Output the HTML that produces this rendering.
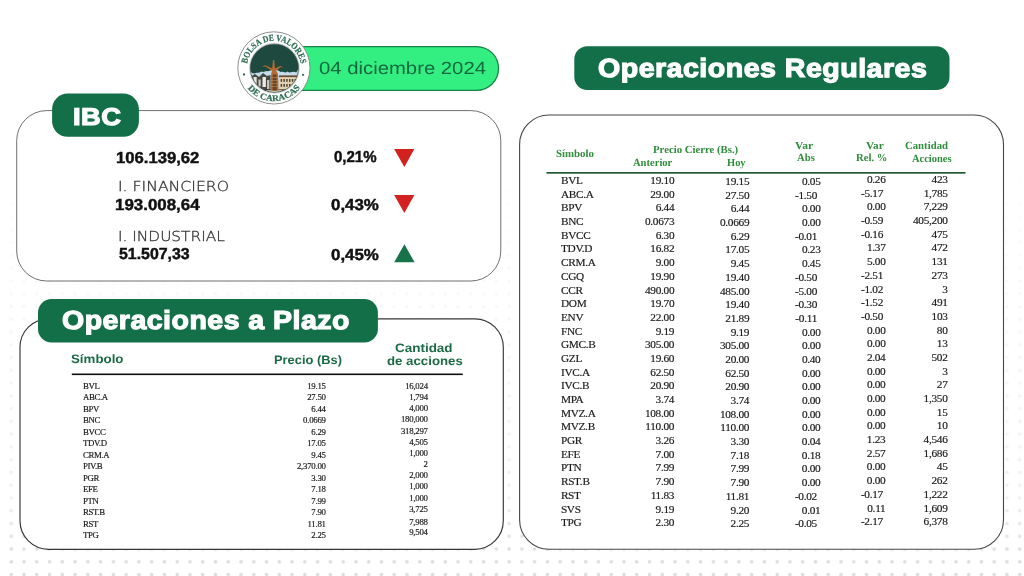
<!DOCTYPE html>
<html lang="es">
<head>
<meta charset="utf-8">
<title>Bolsa de Valores de Caracas - 04 diciembre 2024</title>
<style>
html,body{margin:0;padding:0;}
body{width:1024px;height:576px;position:relative;overflow:hidden;background:#fff;font-family:"Liberation Sans",sans-serif;}
.abs{position:absolute;}
/* dotted backdrop */
.dots{position:absolute;left:0;top:0;width:1024px;height:576px;
  background-image:radial-gradient(circle at 50% 50%, #dedede 0, #dedede 1.4px, rgba(222,222,222,0) 2.2px);
  background-size:12.77px 12.77px;background-position:4.865px 6.505px;
  -webkit-mask-image:linear-gradient(to bottom, rgba(0,0,0,0) 0, rgba(0,0,0,0) 130px, rgba(0,0,0,.2) 300px, rgba(0,0,0,.45) 500px, rgba(0,0,0,1) 552px);
  mask-image:linear-gradient(to bottom, rgba(0,0,0,0) 0, rgba(0,0,0,0) 130px, rgba(0,0,0,.2) 300px, rgba(0,0,0,.45) 500px, rgba(0,0,0,1) 552px);}
/* generic text line */
.t{position:absolute;display:block;white-space:nowrap;line-height:1;transform-origin:0 0;margin:0;padding:0;font-weight:normal;opacity:.999;}
.mb{font-weight:bold;color:#111;-webkit-text-stroke:0.45px #111;}
.ttl{font-weight:bold;color:#fff;-webkit-text-stroke:1.2px #fff;letter-spacing:0.45px;}
.dt{color:#14683f;}
.lt{font-family:"DejaVu Sans","Liberation Sans",sans-serif;font-weight:200;color:#333;-webkit-text-stroke:0.3px #333;}
.gh{font-weight:bold;color:#1c6b46;}
.rh{font-family:"Liberation Serif",serif;font-weight:bold;color:#2f8d3c;}
/* tables */
.col{position:absolute;white-space:nowrap;transform-origin:0 0;transform:rotate(0.02deg);opacity:.999;font-family:"Liberation Serif",serif;color:#1a1a1a;-webkit-text-stroke:0.18px #1a1a1a;}
.col span{display:block;}
#logo{left:234px;top:28px;width:80px;height:80px;}
</style>
</head>
<body>
<div class="dots"></div>

<!-- panels, pills, rules, arrows -->
<svg id="shapes" class="abs" style="left:0;top:0" width="1024" height="576" viewBox="0 0 1024 576">
  <!-- date pill -->
  <path d="M272,46.5 H476.6 A21.95,21.95 0 0 1 476.6,90.4 H272 Z" fill="#33ee81" stroke="#178248" stroke-width="1.25"/>
  <!-- panels -->
  <rect x="16.7" y="110.6" width="484.1" height="170.4" rx="30" fill="#fff" stroke="#707070" stroke-width="1"/>
  <rect x="20" y="318.8" width="483.3" height="230.5" rx="28.5" fill="#fff" stroke="#363636" stroke-width="1.15"/>
  <rect x="519.6" y="115" width="483.9" height="434.3" rx="29.5" fill="#fff" stroke="#454545" stroke-width="1.1"/>
  <!-- pills -->
  <rect x="52.1" y="93.6" width="86.8" height="43.2" rx="15.5" fill="#136f47"/>
  <rect x="38" y="299.1" width="339.9" height="43.4" rx="13.5" fill="#136f47"/>
  <rect x="574.3" y="46.3" width="375.2" height="43.8" rx="13" fill="#136f47"/>
  <!-- rules -->
  <rect x="71.8" y="373.5" width="391" height="1.6" fill="#111"/>
  <rect x="546.5" y="172.0" width="419" height="1.7" fill="#1f5a33"/>
  <!-- arrows -->
  <path d="M394.2,148.9 h20.2 l-10.1,18 Z" fill="#d2211f"/>
  <path d="M394.2,195.1 h20.2 l-10.1,18 Z" fill="#d2211f"/>
  <path d="M394.2,262.3 h20.4 l-10.2,-18 Z" fill="#17734a"/>
</svg>
<!-- logo -->
<svg id="logo" class="abs" viewBox="0 0 80 80">
  <defs>
    <path id="arcTop" d="M 12.8,39.9 A 27.1,27.1 0 0 1 67,39.9"/>
    <path id="arcBot" d="M 6.7,39.9 A 33.2,33.2 0 0 0 73.1,39.9"/>
    <clipPath id="inner"><circle cx="40.4" cy="40.2" r="24.1"/></clipPath>
  </defs>
  <circle cx="39.9" cy="39.9" r="36.1" fill="#fff" stroke="#7d8581" stroke-width="0.9"/>
  <circle cx="40.4" cy="40.2" r="25" fill="#dfe8e6" stroke="#b4c2be" stroke-width="0.5"/>
  <g clip-path="url(#inner)">
    <rect x="14" y="14" width="54" height="54" fill="#c4dcea"/>
    <!-- buildings left -->
    <g transform="translate(0,2)">
    <path d="M15,48 L21,44 L25,47 L29,43 L33,46 L36.6,45 L36.6,64 L15,64 Z" fill="#454843"/>
    <rect x="19.5" y="47" width="3.2" height="8" fill="#e6e4dc"/>
    <rect x="24.5" y="49.5" width="2.2" height="7" fill="#cfcbbe"/>
    <rect x="28.5" y="47" width="3.4" height="10" fill="#eceae2"/>
    <rect x="33" y="50" width="2.4" height="9" fill="#c9c3b2"/>
    <rect x="21" y="57" width="3" height="5" fill="#1f201e"/>
    <!-- building right -->
    <rect x="45" y="46.4" width="23" height="15" fill="#e0d2b0"/>
    <rect x="45" y="45.4" width="23" height="1.7" fill="#6a4634"/>
    <g fill="#4f4237">
      <rect x="46.6" y="49" width="1.5" height="2.8"/><rect x="49.4" y="49" width="1.5" height="2.8"/><rect x="52.2" y="49" width="1.5" height="2.8"/><rect x="55" y="49" width="1.5" height="2.8"/><rect x="57.8" y="49" width="1.5" height="2.8"/><rect x="60.6" y="49" width="1.5" height="2.8"/>
      <rect x="46.6" y="54" width="1.5" height="2.8"/><rect x="49.4" y="54" width="1.5" height="2.8"/><rect x="52.2" y="54" width="1.5" height="2.8"/><rect x="55" y="54" width="1.5" height="2.8"/><rect x="57.8" y="54" width="1.5" height="2.8"/><rect x="60.6" y="54" width="1.5" height="2.8"/>
    </g>
    <rect x="14" y="59.4" width="54" height="9" fill="#33342e"/>
    <rect x="32" y="60.2" width="16" height="2.6" fill="#e3dccb"/>
    </g>
    <!-- canopy -->
    <path d="M16.6,43 C14,31 21,19.5 33,17 C45,14.4 58.8,18 63.4,27.5 C66.6,34 65,41.5 62.2,44.6 C59,42.4 56.6,46 53.4,43.6 C50.8,45.8 48.6,42.8 46.4,44 C44.6,41.8 43.2,42.6 41.8,41.4 L39,41.4 C37.4,43 35.8,41.6 34,43.4 C31.6,42.2 30,45.2 27.4,43.6 C25,45.8 22.4,43.6 20.2,45.6 C18.4,45.4 17,44.6 16.6,43 Z" fill="#1d493f"/>
    <!-- trunk + branches -->
    <path d="M36.7,62.4 L37.1,46 L38,42.8 L31.6,38.4 L27.6,38.4 L31.4,37.2 L38.2,40.4 L39,32 L40.2,32 L41,40.4 L46.2,38 L49.6,39.2 L46.4,39.2 L42.2,42.8 L44,46 L44.6,62.4 Z" fill="#b46a30"/>
    <path d="M38.6,62.4 L38.8,46.6 L42.4,46.6 L42.8,62.4 Z" fill="#6a4426"/>
    <g stroke="#c9975e" stroke-width="0.5"><path d="M37.2,49.5H44.4M37.1,52.5H44.5M37,55.5H44.6M36.9,58.5H44.7"/></g>
  </g>
  <circle cx="40.4" cy="40.2" r="24.1" fill="none" stroke="#3c4a45" stroke-width="0.7"/>
  <g font-family="'Liberation Serif',serif" font-weight="bold" fill="#2a6c50" stroke="#2a6c50" stroke-width="0.22" font-size="9.1" opacity="0.99">
    <text textLength="76.5" lengthAdjust="spacingAndGlyphs"><textPath href="#arcTop" startOffset="4.2">BOLSA DE VALORES</textPath></text>
    <text textLength="61" lengthAdjust="spacingAndGlyphs" font-size="8.9"><textPath href="#arcBot" startOffset="21.7">DE CARACAS</textPath></text>
  </g>
  <circle cx="10" cy="46.5" r="1.15" fill="#2a6c50"/>
  <circle cx="69.1" cy="46.8" r="1.15" fill="#2a6c50"/>
</svg>

<!-- IBC panel -->

<!-- Plazo panel -->

<!-- Regulares -->

<header>
<time class="t dt" id="t0" style="left:318.6px;top:59.72px;font-size:17.7px;transform:scaleX(1.1474) rotate(0.03deg);">04 diciembre 2024</time>
</header>
<section id="ibc">
<h2 class="t ttl" id="t1" style="left:72.6px;top:104.51px;font-size:24.2px;transform:scaleX(1.1248) rotate(0.03deg);">IBC</h2>
<div class="t mb" id="t4" style="left:115.6px;top:149.54px;font-size:15.9px;transform:scaleX(1.0485) rotate(0.03deg);">106.139,62</div>
<div class="t lt" id="t5" style="left:117.9px;top:180.11px;font-size:13.7px;transform:scaleX(1.1441) rotate(0.03deg);">I. FINANCIERO</div>
<div class="t mb" id="t6" style="left:114.9px;top:197.24px;font-size:15.9px;transform:scaleX(1.0636) rotate(0.03deg);">193.008,64</div>
<div class="t lt" id="t7" style="left:117.9px;top:229.61px;font-size:13.7px;transform:scaleX(1.1221) rotate(0.03deg);">I. INDUSTRIAL</div>
<div class="t mb" id="t8" style="left:119.3px;top:246.24px;font-size:15.9px;transform:scaleX(0.9998) rotate(0.03deg);">51.507,33</div>
<div class="t mb" id="t9" style="left:334.1px;top:149.24px;font-size:15.9px;transform:scaleX(0.9452) rotate(0.03deg);">0,21%</div>
<div class="t mb" id="t10" style="left:331.3px;top:197.34px;font-size:15.9px;transform:scaleX(1.0628) rotate(0.03deg);">0,43%</div>
<div class="t mb" id="t11" style="left:331.3px;top:246.64px;font-size:15.9px;transform:scaleX(1.0628) rotate(0.03deg);">0,45%</div>
</section>
<section id="plazo">
<h2 class="t ttl" id="t2" style="left:61.5px;top:306.82px;font-size:26.2px;transform:scaleX(1.0879) rotate(0.03deg);">Operaciones a Plazo</h2>
<div class="t gh" id="t12" style="left:71.3px;top:352.87px;font-size:12.2px;transform:scaleX(1.0918) rotate(0.03deg);">Símbolo</div>
<div class="t gh" id="t13" style="left:273.6px;top:354.17px;font-size:12.2px;transform:scaleX(1.0567) rotate(0.03deg);">Precio (Bs)</div>
<div class="t gh" id="t14" style="left:394.6px;top:341.97px;font-size:12.2px;transform:scaleX(1.1046) rotate(0.03deg);">Cantidad</div>
<div class="t gh" id="t15" style="left:387.2px;top:354.97px;font-size:12.2px;transform:scaleX(1.0862) rotate(0.03deg);">de acciones</div>
<div class="col" id="pz-s" style="left:83px;top:381.49px;font-size:8.8px;line-height:11.48px;letter-spacing:-0.36px;"><span>BVL</span><span>ABC.A</span><span>BPV</span><span>BNC</span><span>BVCC</span><span>TDV.D</span><span>CRM.A</span><span>PIV.B</span><span>PGR</span><span>EFE</span><span>PTN</span><span>RST.B</span><span>RST</span><span>TPG</span></div>
<div class="col" id="pz-p" style="right:698.2px;text-align:right;top:380.69px;font-size:8.8px;line-height:11.48px;letter-spacing:-0.26px;"><span>19.15</span><span>27.50</span><span>6.44</span><span>0.0669</span><span>6.29</span><span>17.05</span><span>9.45</span><span>2,370.00</span><span>3.30</span><span>7.18</span><span>7.99</span><span>7.90</span><span>11.81</span><span>2.25</span></div>
<div class="col" id="pz-q" style="right:596px;text-align:right;top:380.75px;font-size:8.8px;line-height:11.16px;letter-spacing:-0.26px;"><span>16,024</span><span>1,794</span><span>4,000</span><span>180,000</span><span>318,297</span><span>4,505</span><span>1,000</span><span>2</span><span>2,000</span><span>1,000</span><span>1,000</span><span>3,725</span><span style="margin-top:1.95px">7,988</span><span style="margin-top:-1.16px">9,504</span></div>
</section>
<section id="regulares">
<h2 class="t ttl" id="t3" style="left:597.8px;top:55.04px;font-size:26.3px;transform:scaleX(1.0862) rotate(0.03deg);">Operaciones Regulares</h2>
<div class="t rh" id="t16" style="left:555.6px;top:147.87px;font-size:10.9px;transform:scaleX(0.9962) rotate(0.03deg);">Símbolo</div>
<div class="t rh" id="t17" style="left:653.4px;top:144.27px;font-size:10.9px;transform:scaleX(0.9862) rotate(0.03deg);">Precio Cierre (Bs.)</div>
<div class="t rh" id="t18" style="left:633px;top:157.07px;font-size:10.9px;transform:scaleX(0.9695) rotate(0.03deg);">Anterior</div>
<div class="t rh" id="t19" style="left:727px;top:157.07px;font-size:10.9px;transform:scaleX(0.9597) rotate(0.03deg);">Hoy</div>
<div class="t rh" id="t20" style="left:794.6px;top:140.27px;font-size:10.9px;transform:scaleX(1.0605) rotate(0.03deg);">Var</div>
<div class="t rh" id="t21" style="left:797.2px;top:152.27px;font-size:10.9px;transform:scaleX(0.9792) rotate(0.03deg);">Abs</div>
<div class="t rh" id="t22" style="left:865.8px;top:140.27px;font-size:10.9px;transform:scaleX(1.0372) rotate(0.03deg);">Var</div>
<div class="t rh" id="t23" style="left:855.6px;top:152.27px;font-size:10.9px;transform:scaleX(0.9792) rotate(0.03deg);">Rel. %</div>
<div class="t rh" id="t24" style="left:904.6px;top:140.47px;font-size:10.9px;transform:scaleX(0.9863) rotate(0.03deg);">Cantidad</div>
<div class="t rh" id="t25" style="left:911.5px;top:152.87px;font-size:10.9px;transform:scaleX(0.9624) rotate(0.03deg);">Acciones</div>
<div class="col" id="rg-s" style="left:561.1px;top:173.65px;font-size:11.3px;line-height:13.68px;letter-spacing:-0.3px;"><span>BVL</span><span>ABC.A</span><span>BPV</span><span>BNC</span><span>BVCC</span><span>TDV.D</span><span>CRM.A</span><span>CGQ</span><span>CCR</span><span>DOM</span><span>ENV</span><span>FNC</span><span>GMC.B</span><span>GZL</span><span>IVC.A</span><span>IVC.B</span><span>MPA</span><span>MVZ.A</span><span>MVZ.B</span><span>PGR</span><span>EFE</span><span>PTN</span><span>RST.B</span><span>RST</span><span>SVS</span><span>TPG</span></div>
<div class="col" id="rg-a" style="right:350px;text-align:right;top:173.65px;font-size:11.3px;line-height:13.68px;letter-spacing:-0.3px;"><span>19.10</span><span>29.00</span><span>6.44</span><span>0.0673</span><span>6.30</span><span>16.82</span><span>9.00</span><span>19.90</span><span>490.00</span><span>19.70</span><span>22.00</span><span>9.19</span><span>305.00</span><span>19.60</span><span>62.50</span><span>20.90</span><span>3.74</span><span>108.00</span><span>110.00</span><span>3.26</span><span>7.00</span><span>7.99</span><span>7.90</span><span>11.83</span><span>9.19</span><span>2.30</span></div>
<div class="col" id="rg-h" style="right:274.5px;text-align:right;top:174.84px;font-size:11.3px;line-height:13.69px;letter-spacing:-0.3px;"><span>19.15</span><span>27.50</span><span>6.44</span><span>0.0669</span><span>6.29</span><span>17.05</span><span>9.45</span><span>19.40</span><span>485.00</span><span>19.40</span><span>21.89</span><span>9.19</span><span>305.00</span><span>20.00</span><span>62.50</span><span>20.90</span><span>3.74</span><span>108.00</span><span>110.00</span><span>3.30</span><span>7.18</span><span>7.99</span><span>7.90</span><span>11.81</span><span>9.20</span><span>2.25</span></div>
<div class="col" id="rg-va" style="right:203px;text-align:right;top:174.54px;font-size:11.3px;line-height:13.69px;letter-spacing:-0.3px;"><span>0.05</span><span style="padding-right:3.5px">-1.50</span><span>0.00</span><span>0.00</span><span style="padding-right:3.5px">-0.01</span><span>0.23</span><span>0.45</span><span style="padding-right:3.5px">-0.50</span><span style="padding-right:3.5px">-5.00</span><span style="padding-right:3.5px">-0.30</span><span style="padding-right:3.5px">-0.11</span><span>0.00</span><span>0.00</span><span>0.40</span><span>0.00</span><span>0.00</span><span>0.00</span><span>0.00</span><span>0.00</span><span>0.04</span><span>0.18</span><span>0.00</span><span>0.00</span><span style="padding-right:3.5px">-0.02</span><span>0.01</span><span style="padding-right:3.5px">-0.05</span></div>
<div class="col" id="rg-vr" style="right:138.5px;text-align:right;top:173.25px;font-size:11.3px;line-height:13.68px;letter-spacing:-0.3px;"><span>0.26</span><span style="padding-right:2.5px">-5.17</span><span>0.00</span><span style="padding-right:2.5px">-0.59</span><span style="padding-right:2.5px">-0.16</span><span>1.37</span><span>5.00</span><span style="padding-right:2.5px">-2.51</span><span style="padding-right:2.5px">-1.02</span><span style="padding-right:2.5px">-1.52</span><span style="padding-right:2.5px">-0.50</span><span>0.00</span><span>0.00</span><span>2.04</span><span>0.00</span><span>0.00</span><span>0.00</span><span>0.00</span><span>0.00</span><span>1.23</span><span>2.57</span><span>0.00</span><span>0.00</span><span style="padding-right:2.5px">-0.17</span><span>0.11</span><span style="padding-right:2.5px">-2.17</span></div>
<div class="col" id="rg-c" style="right:76.5px;text-align:right;top:173.25px;font-size:11.3px;line-height:13.68px;letter-spacing:-0.3px;"><span>423</span><span>1,785</span><span>7,229</span><span>405,200</span><span>475</span><span>472</span><span>131</span><span>273</span><span>3</span><span>491</span><span>103</span><span>80</span><span>13</span><span>502</span><span>3</span><span>27</span><span>1,350</span><span>15</span><span>10</span><span>4,546</span><span>1,686</span><span>45</span><span>262</span><span>1,222</span><span>1,609</span><span>6,378</span></div>
</section>
</body>
</html>
